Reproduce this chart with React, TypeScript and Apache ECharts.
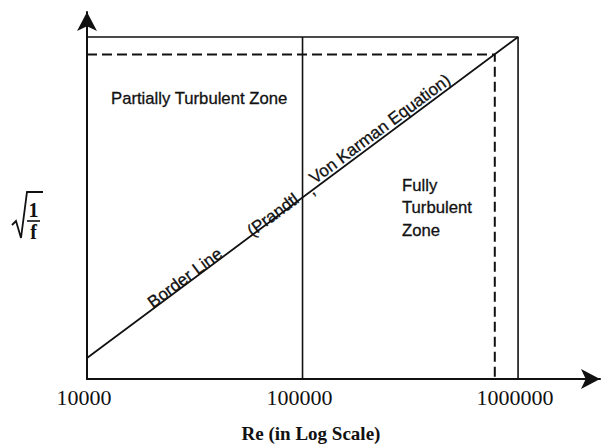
import React, { useEffect, useRef } from "react";
import * as echarts from "echarts";

// Axis range (Re on log scale, y arbitrary units of sqrt(1/f))
const reMin = 10000;
const reMax = 2400000;
const yMin = 0;
const yMax = 10;

// Tick labels on the Re axis
const tickValues = [10000, 100000, 1000000];
const tickLabels = ["10000", "100000", "1000000"];

// Border line (Prandtl - Von Karman equation)
const borderRe = [10000, 1000000];
const borderY = [0.57, 9.32];

// Upper bounding line and verticals
const topY = 9.32;
const boxRe = [10000, 1000000];
const midRe = 100000;

// Dashed guide point on the border line
const dashRe = 780000;
const dashY = 8.84;

const SANS = "'Liberation Sans', Arial, sans-serif";
const SERIF = "'Liberation Serif', 'Times New Roman', serif";
const INK = "#111";

export default function App() {
  const ref = useRef<HTMLDivElement>(null);

  useEffect(() => {
    if (!ref.current) return;
    const chart = echarts.init(ref.current, null, { renderer: "svg" });
    const angle = Math.atan(0.745);

    const rotText = (text: string, x: number, y: number) => ({
      type: "text",
      x,
      y,
      rotation: angle,
      style: {
        text,
        font: `17px ${SANS}`,
        fill: INK,
        stroke: INK,
        lineWidth: 0.3,
        align: "center",
        verticalAlign: "middle",
      },
    });

    const plainText = (text: string, x: number, y: number) => ({
      type: "text",
      x,
      y,
      style: {
        text,
        font: `16.7px ${SANS}`,
        fill: INK,
        stroke: INK,
        lineWidth: 0.3,
        align: "left",
        verticalAlign: "middle",
      },
    });

    chart.setOption({
      animation: false,
      backgroundColor: "#fff",
      grid: {
        left: 87,
        right: 5,
        top: 12,
        bottom: 67,
        containLabel: false,
        outerBoundsMode: "none",
      },
      xAxis: {
        type: "log",
        logBase: 10,
        min: reMin,
        max: reMax,
        splitLine: { show: false },
        axisTick: { show: false },
        minorTick: { show: false },
        axisLine: {
          show: true,
          symbol: ["none", "arrow"],
          symbolSize: [15, 19],
          lineStyle: { color: INK, width: 2 },
        },
        axisLabel: {
          show: true,
          margin: 7,
          color: INK,
          fontFamily: SERIF,
          fontSize: 22,
          padding: [0, 6, 0, 0],
          showMaxLabel: true,
          showMinLabel: true,
          formatter: (v: number) => {
            const i = tickValues.findIndex(
              (t) => Math.abs(Math.log10(v) - Math.log10(t)) < 1e-6
            );
            return i >= 0 ? tickLabels[i] : "";
          },
        },
      },
      yAxis: {
        type: "value",
        min: yMin,
        max: yMax,
        splitLine: { show: false },
        axisTick: { show: false },
        axisLabel: { show: false },
        axisLine: {
          show: true,
          symbol: ["none", "arrow"],
          symbolSize: [15, 19],
          lineStyle: { color: INK, width: 2 },
        },
      },
      series: [
        {
          type: "line",
          symbol: "none",
          silent: true,
          data: [
            [boxRe[0], topY],
            [boxRe[1], topY],
            [boxRe[1], yMin],
          ],
          lineStyle: { color: INK, width: 1.6 },
        },
        {
          type: "line",
          symbol: "none",
          silent: true,
          data: [
            [midRe, topY],
            [midRe, yMin],
          ],
          lineStyle: { color: INK, width: 1.6 },
        },
        {
          type: "line",
          symbol: "none",
          silent: true,
          data: borderRe.map((r, i) => [r, borderY[i]]),
          lineStyle: { color: INK, width: 1.8 },
        },
        {
          type: "line",
          symbol: "none",
          silent: true,
          data: [
            [reMin, dashY],
            [dashRe, dashY],
            [dashRe, yMin],
          ],
          lineStyle: { color: INK, width: 2, type: [10, 5] },
        },
      ],
      graphic: [
        plainText("Partially Turbulent Zone", 111, 98),
        plainText("Fully", 402, 185),
        plainText("Turbulent", 402, 207),
        plainText("Zone", 402, 230),
        rotText("Border Line", 185, 278),
        rotText("(Prandtl", 273, 215),
        rotText(",", 311, 190),
        rotText("Von Karman Equation)", 380, 129),
        {
          type: "text",
          x: 311,
          y: 433,
          style: {
            text: "Re (in Log Scale)",
            font: `bold 19px ${SERIF}`,
            fill: INK,
            align: "center",
            verticalAlign: "middle",
          },
        },
        {
          type: "polyline",
          shape: {
            points: [
              [12, 225],
              [16, 221],
              [21, 238],
              [27, 192],
              [43, 192],
            ],
          },
          style: { stroke: INK, lineWidth: 1.8, fill: "none" },
        },
        {
          type: "text",
          x: 33.5,
          y: 210,
          style: {
            text: "1",
            font: `bold 20px ${SERIF}`,
            fill: INK,
            align: "center",
            verticalAlign: "middle",
          },
        },
        {
          type: "line",
          shape: { x1: 27, y1: 221, x2: 40, y2: 221 },
          style: { stroke: INK, lineWidth: 1.6 },
        },
        {
          type: "text",
          x: 33.5,
          y: 232,
          style: {
            text: "f",
            font: `bold 20px ${SERIF}`,
            fill: INK,
            align: "center",
            verticalAlign: "middle",
          },
        },
      ],
    });

    return () => chart.dispose();
  }, []);

  return (
    <div
      ref={ref}
      style={{ position: "fixed", left: 0, top: 0, width: 605, height: 446 }}
    />
  );
}
